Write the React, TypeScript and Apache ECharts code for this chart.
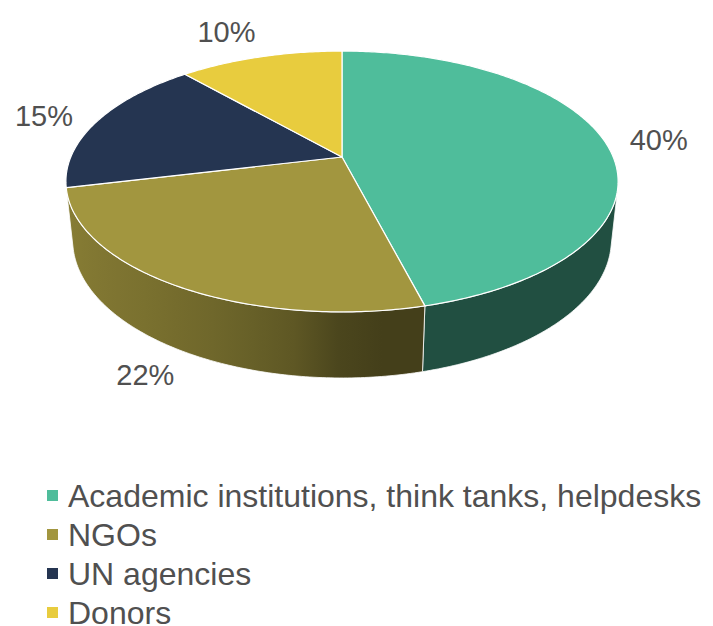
import React, { useEffect, useRef } from "react";
import * as echarts from "echarts";

// ---- data ----
const categories = [
  "Academic institutions, think tanks, helpdesks",
  "NGOs",
  "UN agencies",
  "Donors",
];
const values = [40, 22, 15, 10];
const colors = ["#4FBD9B", "#A2963F", "#253551", "#E8CC3E"];

// ---- 3D projection setup (layout constants) ----
const CX = 342; // screen position of pie centre (apex)
const CY = 157;
const FOCAL = 1280;
const DIST = 4.72;
const SIN_E = 0.464;
const COS_E = Math.sqrt(1 - SIN_E * SIN_E);
const DEPTH = 0.2457;
const FONT = '"Liberation Sans", Arial, Helvetica, sans-serif';
const TEXT_COLOR = "#505050";

const rad = (d: number) => (d * Math.PI) / 180;

function project(thetaDeg: number, r: number, z: number): [number, number] {
  const t = rad(thetaDeg);
  const x = r * Math.sin(t);
  const y = r * Math.cos(t);
  const d = y * COS_E + DIST - z * SIN_E;
  const sx = (FOCAL * x) / d;
  const sy = (FOCAL * (y * SIN_E + z * COS_E)) / d;
  return [CX + sx, CY - sy];
}

const VIS_MIN = (Math.acos(-1 / (DIST * COS_E)) * 180) / Math.PI;
const VIS_MAX = 360 - VIS_MIN;

function hexToRgb(h: string): [number, number, number] {
  const n = parseInt(h.slice(1), 16);
  return [(n >> 16) & 255, (n >> 8) & 255, n & 255];
}
function shade(hex: string, f: number) {
  const [r, g, b] = hexToRgb(hex);
  const c = (v: number) => Math.max(0, Math.min(255, Math.round(v * f)));
  return `rgb(${c(r)},${c(g)},${c(b)})`;
}
function light(thetaDeg: number) {
  const s = -Math.sin(rad(thetaDeg));
  return 0.42 + 0.42 * Math.sqrt(Math.max(0, s));
}

function arcPoints(a: number, b: number, r: number, z: number) {
  const pts: [number, number][] = [];
  const n = Math.max(2, Math.ceil(Math.abs(b - a) / 0.75));
  for (let k = 0; k <= n; k++) pts.push(project(a + ((b - a) * k) / n, r, z));
  return pts;
}

const total = values.reduce((s, v) => s + v, 0);
const cum: number[] = [0];
values.forEach((v, i) => cum.push(cum[i] + v));

function makeRender(i: number) {
  return (_params: any, api: any) => {
    const v = api.value(0);
    const start = (cum[i] / total) * 360;
    const end = ((cum[i] + v) / total) * 360;
    const children: any[] = [];

    // visible outer side
    const a = Math.max(start, VIS_MIN);
    const b = Math.min(end, VIS_MAX);
    if (b > a) {
      const top = arcPoints(a, b, 1, 0);
      const bottom = arcPoints(b, a, 1, -DEPTH);
      const pts = top.concat(bottom);
      const ns = 12;
      const samples: { x: number; c: string }[] = [];
      for (let k = 0; k <= ns; k++) {
        const t = a + ((b - a) * k) / ns;
        samples.push({ x: project(t, 1, 0)[0], c: shade(colors[i], light(t)) });
      }
      const xs = samples.map((s) => s.x);
      const xmin = Math.min(...xs);
      const xmax = Math.max(...xs);
      const stops = samples
        .map((s) => ({ offset: (s.x - xmin) / Math.max(1, xmax - xmin), color: s.c }))
        .sort((p, q) => p.offset - q.offset);
      children.push({
        type: "polygon",
        shape: { points: pts },
        style: {
          fill: new echarts.graphic.LinearGradient(xmin, 0, xmax, 0, stops, true),
          stroke: "#ffffff",
          lineWidth: 0.8,
          lineJoin: "round",
        },
      });
    }

    // top face
    const topPts = [[CX, CY] as [number, number]].concat(arcPoints(start, end, 1, 0));
    children.push({
      type: "polygon",
      shape: { points: topPts },
      style: { fill: colors[i], stroke: "#ffffff", lineWidth: 1.2, lineJoin: "round" },
    });

    // label
    const mid = (start + end) / 2;
    const visible = mid > VIS_MIN && mid < VIS_MAX;
    const anchor = project(mid, 1, visible ? -DEPTH : 0);
    let dx = anchor[0] - CX;
    let dy = anchor[1] - CY;
    const len = Math.hypot(dx, dy) || 1;
    dx /= len;
    dy /= len;
    const gap = 18;
    const lx = anchor[0] + dx * gap + dx * 36;
    const ly = anchor[1] + dy * gap + dy * 14;
    children.push({
      type: "text",
      style: {
        text: `${v}%`,
        x: lx,
        y: ly,
        align: "center",
        verticalAlign: "middle",
        fill: TEXT_COLOR,
        fontSize: 29,
        fontFamily: FONT,
      },
    });

    return { type: "group", children };
  };
}

export default function App() {
  const ref = useRef<HTMLDivElement>(null);
  useEffect(() => {
    document.body.style.margin = "0";
    const chart = echarts.init(ref.current!, undefined, { renderer: "svg" });
    chart.setOption({
      animation: false,
      backgroundColor: "#ffffff",
      legend: {
        orient: "vertical",
        left: 47,
        top: 476,
        width: 680,
        height: 200,
        padding: 0,
        itemGap: 0,
        itemWidth: 11,
        itemHeight: 11,
        icon: "rect",
        selectedMode: false,
        data: categories,
        textStyle: {
          fontSize: 32,
          lineHeight: 39,
          color: TEXT_COLOR,
          fontFamily: FONT,
          padding: [0, 0, 0, 5],
        },
      },
      series: categories.map((name, i) => ({
        type: "custom",
        name,
        coordinateSystem: "none",
        silent: true,
        itemStyle: { color: colors[i] },
        data: [[values[i]]],
        renderItem: makeRender(i),
      })),
    });
    return () => chart.dispose();
  }, []);
  return (
    <div
      ref={ref}
      style={{ position: "absolute", left: 0, top: 0, width: 713, height: 626 }}
    />
  );
}
